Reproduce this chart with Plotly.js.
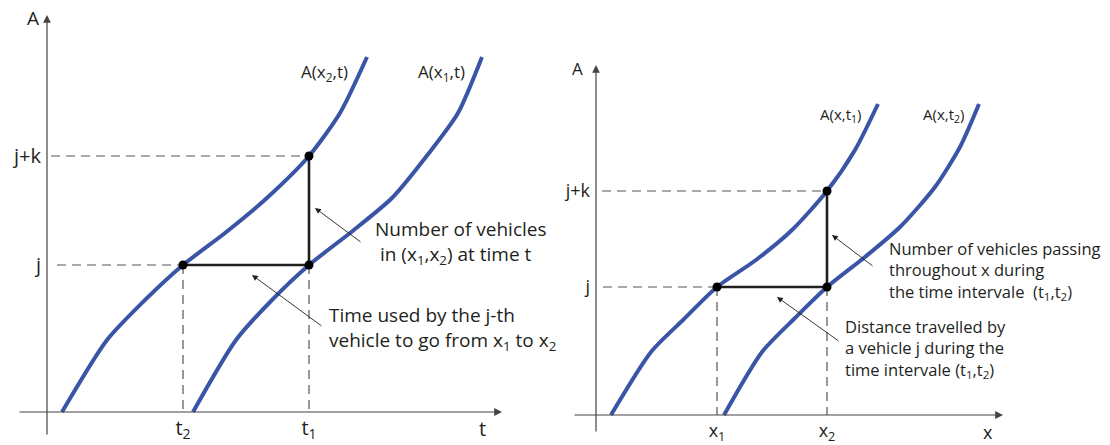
<!DOCTYPE html>
<html>
<head>
<meta charset="utf-8">
<script src="https://cdn.plot.ly/plotly-3.0.1.min.js"></script>
<style>
  html, body { margin: 0; padding: 0; background: #fff; }
  #chart { width: 1110px; height: 445px; }
</style>
</head>
<body>
<div id="chart"></div>
<script>
// ---- Left panel: cumulative count A against time t at two locations ----
const curveX2T = [1.5, 6.0, 9.8, 13.6, 17.8, 22.1, 26.2, 29.3, 32.0];
const curveX2A = [0, 7.2, 11.2, 14.7, 17.9, 21.5, 25.6, 29.9, 35.5];
const curveX1T = [14.6, 18.9, 22.5, 26.2, 30.3, 34.5, 38.2, 41.1, 43.5];
const curveX1A = [0, 7.2, 11.2, 14.7, 17.9, 21.4, 25.9, 29.9, 35.5];
const leftTimes = [13.6, 26.2];          // t2, t1
const leftTimeLabels = ['t<sub>2</sub>', 't<sub>1</sub>'];
const leftCounts = [14.7, 25.6];         // j, j+k
const leftCountLabels = ['j', 'j+k'];

// ---- Right panel: cumulative count A against position x at two instants ----
const curveT1X = [1.5, 5.5, 8.7, 12.1, 16.0, 19.6, 23.1, 25.9, 28.2];
const curveT1A = [0, 6.3, 9.5, 12.8, 15.5, 18.5, 22.4, 26.5, 31.1];
const curveT2X = [12.8, 16.6, 19.9, 23.1, 26.9, 30.4, 33.9, 36.4, 38.3];
const curveT2A = [0, 6.3, 9.7, 12.8, 15.8, 18.8, 22.8, 26.8, 31.1];
const rightPositions = [12.1, 23.1];     // x1, x2
const rightPositionLabels = ['x<sub>1</sub>', 'x<sub>2</sub>'];
const rightCounts = [12.8, 22.4];        // j, j+k
const rightCountLabels = ['j', 'j+k'];

const BLUE = '#3a55a6';
const INK = '#231f20';
const GUIDE = '#555555';
const FONT = 'Open Sans, Noto Sans, sans-serif';

function curve(x, y, xa, ya) {
  return { x, y, xaxis: xa, yaxis: ya, mode: 'lines', hoverinfo: 'skip',
           line: { color: BLUE, width: 4, shape: 'spline', smoothing: 0.7 } };
}
function guide(x, y, xa, ya) {
  return { x, y, xaxis: xa, yaxis: ya, mode: 'lines', hoverinfo: 'skip',
           line: { color: GUIDE, width: 1.2, dash: '9px,6px' } };
}
function solid(x, y, xa, ya) {
  return { x, y, xaxis: xa, yaxis: ya, mode: 'lines', hoverinfo: 'skip',
           line: { color: INK, width: 2.6 } };
}
function dots(x, y, xa, ya) {
  return { x, y, xaxis: xa, yaxis: ya, mode: 'markers', hoverinfo: 'skip',
           marker: { color: '#000', size: 9 } };
}

const [lt2, lt1] = leftTimes;
const [lj, ljk] = leftCounts;
const [rx1, rx2] = rightPositions;
const [rj, rjk] = rightCounts;

const traces = [
  // left panel
  guide([1.0, lt2], [lj, lj], 'x', 'y'),
  guide([0.4, lt1], [ljk, ljk], 'x', 'y'),
  guide([lt2, lt2], [lj, 0], 'x', 'y'),
  guide([lt1, lt1], [lj, 0], 'x', 'y'),
  curve(curveX2T, curveX2A, 'x', 'y'),
  curve(curveX1T, curveX1A, 'x', 'y'),
  solid([lt2, lt1, lt1], [lj, lj, ljk], 'x', 'y'),
  dots([lt2, lt1, lt1], [lj, lj, ljk], 'x', 'y'),
  // right panel
  guide([0.7, rx1], [rj, rj], 'x2', 'y2'),
  guide([0.6, rx2], [rjk, rjk], 'x2', 'y2'),
  guide([rx1, rx1], [rj, 0], 'x2', 'y2'),
  guide([rx2, rx2], [rj, 0], 'x2', 'y2'),
  curve(curveT1X, curveT1A, 'x2', 'y2'),
  curve(curveT2X, curveT2A, 'x2', 'y2'),
  solid([rx1, rx2, rx2], [rj, rj, rjk], 'x2', 'y2'),
  dots([rx1, rx2, rx2], [rj, rj, rjk], 'x2', 'y2')
];

function axisArrow(xr, yr, x, y, ax, ay) {
  return { xref: xr, yref: yr, axref: xr, ayref: yr, x, y, ax, ay, text: '',
           showarrow: true, arrowhead: 2, arrowsize: 1.3, arrowwidth: 1.2,
           arrowcolor: '#444', standoff: 0, startstandoff: 0 };
}
function pointer(xr, yr, x, y, ax, ay) {
  return { xref: xr, yref: yr, axref: xr, ayref: yr, x, y, ax, ay, text: '',
           showarrow: true, arrowhead: 2, arrowsize: 1.3, arrowwidth: 0.9,
           arrowcolor: INK, standoff: 0, startstandoff: 0 };
}
function label(xr, yr, x, y, text, size, xanchor) {
  return { xref: xr, yref: yr, x, y, text, showarrow: false,
           xanchor: xanchor || 'center', yanchor: 'middle', align: 'left',
           font: { family: FONT, size, color: INK } };
}

const annotations = [
  // axes with arrowheads
  axisArrow('x', 'y', 0, 39.7, 0, -2.4),
  axisArrow('x', 'y', 45.5, 0, -2.9, 0),
  axisArrow('x2', 'y2', 0, 35.0, 0, -1.8),
  axisArrow('x2', 'y2', 40.7, 0, -2.3, 0),
  // axis names
  label('x', 'y', -1.4, 39.4, 'A', 19),
  label('x', 'y', 43.5, -1.6, 't', 20),
  label('x2', 'y2', -1.9, 34.7, 'A', 17),
  label('x2', 'y2', 39.2, -1.7, 'x', 18),
  // curve names
  label('x', 'y', 27.7, 34.0, 'A(x<sub>2</sub>,t)', 17),
  label('x', 'y', 39.4, 34.0, 'A(x<sub>1</sub>,t)', 17),
  label('x2', 'y2', 24.4, 30.0, 'A(x,t<sub>1</sub>)', 15),
  label('x2', 'y2', 34.7, 30.0, 'A(x,t<sub>2</sub>)', 15),
  // explanations
  pointer('x', 'y', 26.8, 20.4, 31.5, 16.9),
  label('x', 'y', 32.6, 17.0, 'Number of vehicles<br> in (x<sub>1</sub>,x<sub>2</sub>) at time t', 19, 'left'),
  pointer('x', 'y', 20.5, 13.7, 27.6, 8.5),
  label('x', 'y', 28.0, 8.4, 'Time used by the j-th<br>vehicle to go from x<sub>1</sub> to x<sub>2</sub>', 19, 'left'),
  pointer('x2', 'y2', 23.6, 18.0, 27.8, 14.8),
  label('x2', 'y2', 29.1, 14.5, 'Number of vehicles passing<br>throughout x during<br>the time intervale  (t<sub>1</sub>,t<sub>2</sub>)', 16.5, 'left'),
  pointer('x2', 'y2', 18.1, 11.8, 24.4, 7.3),
  label('x2', 'y2', 24.7, 6.7, 'Distance travelled by<br>a vehicle j during the<br>time intervale (t<sub>1</sub>,t<sub>2</sub>)', 16.5, 'left')
];

const baseAxis = { showgrid: false, zeroline: false, showline: false, ticks: '',
                   fixedrange: true, anchor: 'free' };

const layout = {
  width: 1110, height: 445,
  margin: { l: 0, r: 0, t: 0, b: 0 },
  paper_bgcolor: '#fff', plot_bgcolor: 'rgba(0,0,0,0)',
  showlegend: false,
  font: { family: FONT, color: INK },
  xaxis: Object.assign({}, baseAxis, { domain: [0, 0.5], range: [-4.7, 50.8],
    position: 33 / 445, tickvals: leftTimes, ticktext: leftTimeLabels,
    tickfont: { size: 20, color: INK }, ticklabelstandoff: 2 }),
  yaxis: Object.assign({}, baseAxis, { domain: [0, 1], range: [-3.3, 41.2],
    position: 47 / 1110, tickvals: leftCounts, ticktext: leftCountLabels,
    tickfont: { size: 20, color: INK }, ticklabelstandoff: 6 }),
  xaxis2: Object.assign({}, baseAxis, { domain: [0.5, 1], range: [-4.1, 51.4],
    position: 30 / 445, tickvals: rightPositions, ticktext: rightPositionLabels,
    tickfont: { size: 18, color: INK }, ticklabelstandoff: 3 }),
  yaxis2: Object.assign({}, baseAxis, { domain: [0, 1], range: [-3.0, 41.5],
    position: 596 / 1110, tickvals: rightCounts, ticktext: rightCountLabels,
    tickfont: { size: 18, color: INK }, ticklabelstandoff: 6 }),
  annotations
};

Plotly.newPlot('chart', traces, layout, { displayModeBar: false, staticPlot: true });
</script>
</body>
</html>
